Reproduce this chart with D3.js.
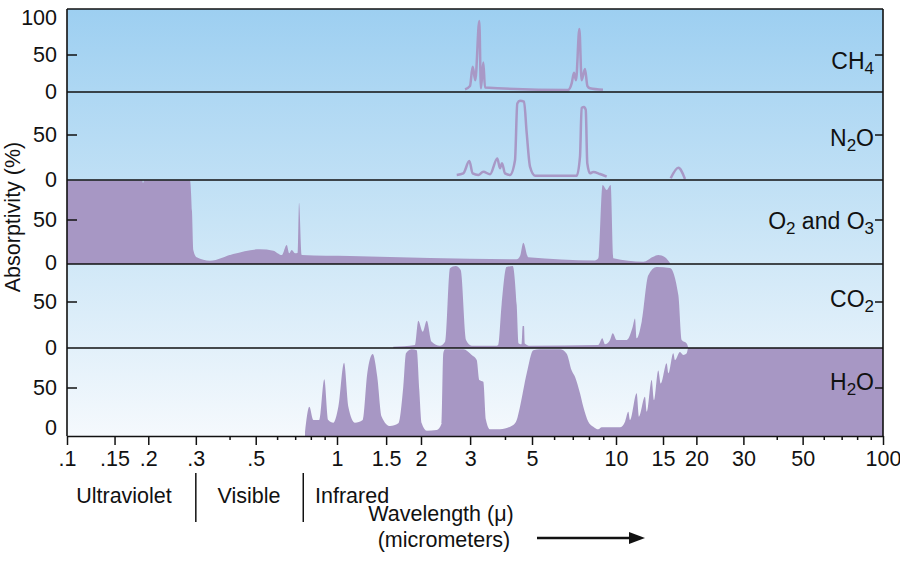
<!DOCTYPE html>
<html>
<head>
<meta charset="utf-8">
<script src="https://cdn.jsdelivr.net/npm/d3@7"></script>
<style>
  body { margin: 0; background: #fff; }
  text { font-family: "Liberation Sans", Arial, Helvetica, sans-serif; fill: #111; }
</style>
</head>
<body>
<svg id="chart"></svg>
<script>
// gas labels, "_" marks a subscript digit
const gasNames = ["CH_4", "N_2O", "O_2 and O_3", "CO_2", "H_2O"];

// wavelength (micrometers) / absorptivity (%)
const ch4Wave = [2.876, 2.997, 3.064, 3.131, 3.236, 3.28, 3.345, 3.392, 6.73, 6.94, 7.07, 7.19, 7.39, 7.53, 7.74, 7.90, 8.07, 8.98];
const ch4Abs  = [3.6, 8, 34, 16, 96, 5, 40, 6, 2.7, 12, 26, 16, 85, 16, 31, 8, 5, 3];

const n2oWave = [2.686, 2.836, 2.980, 3.064, 3.210, 3.345, 3.535, 3.754, 3.839, 3.903, 4.001, 4.169, 4.345, 4.428, 4.528, 4.680, 4.786, 4.918, 5.125,
                 7.23, 7.43, 7.53, 7.68, 7.79, 7.89, 8.07, 8.29, 8.76, 9.26, 12, 16.03, 17.12, 18.13];
const n2oAbs  = [5.6, 7.4, 21, 7.4, 5.6, 9.2, 6.3, 24, 13, 18.6, 7.4, 5.6, 22, 85, 88, 87, 52, 14.8, 4.8,
                 4.8, 26, 80, 81, 78, 18.6, 7.4, 8.9, 6.7, 3.7, null, 1.9, 13.7, 1.1];

const o3Wave = [0.1, 0.19, 0.1912, 0.193, 0.2855, 0.2904, 0.2936, 0.3023, 0.3385, 0.4129, 0.5184, 0.5808, 0.6241, 0.6512, 0.6658, 0.6796, 0.699,
                0.7152, 0.7235, 0.7402, 1.113, 4.407, 4.528, 4.653, 4.85, 8.40, 8.64, 8.95, 9.26, 9.57, 9.78, 12.66, 13.79, 14.40, 15.26, 15.93];
const o3Abs  = [96, 96, 93, 96, 96, 60, 15, 6.6, 2.7, 10.5, 16, 14.3, 9.3, 21, 11.3, 15, 11.3,
                12, 70, 9.3, 8.1, 4.3, 8, 23.6, 6.6, 3, 5.5, 90.7, 85, 90.7, 5.5, 1.5, 7.3, 9.3, 6.6, 0];

const co2Wave = [1.591, 1.904, 1.956, 2.029, 2.097, 2.185, 2.340, 2.439, 2.541, 2.664, 2.776, 2.900, 3.040, 3.736, 3.78, 3.89, 4.05, 4.264, 4.407,
                 4.48, 4.59, 4.63, 4.68, 4.71, 4.92, 8.642, 8.932, 9.133, 9.518, 9.732, 10.06, 10.97, 11.55, 11.78, 11.95, 12.48, 13.21, 14.20,
                 15.93, 17.12, 17.62, 18.40, 18.66];
const co2Abs  = [1.4, 3.3, 29.7, 17.7, 29.7, 6.8, 2.5, 6.8, 86.6, 89, 84.8, 8.7, 2.5, 2.5, 3.3, 47, 88, 89, 46.7,
                 5, 4, 24, 24, 5, 2.5, 3.3, 10.5, 4, 8.7, 16, 8.7, 8.7, 23, 32, 10.5, 28.6, 79, 88,
                 87, 57.6, 8.7, 5, 0];

const h2oWave = [0.7612, 0.7897, 0.8172, 0.8599, 0.8974, 0.9285, 0.969, 1.011, 1.060, 1.098, 1.160, 1.236, 1.284, 1.343, 1.394, 1.446, 1.549,
                 1.659, 1.728, 1.767, 1.853, 1.931, 1.972, 2.012, 2.097, 2.277, 2.373, 2.404, 2.439, 2.836, 3.040, 3.168, 3.236, 3.345, 3.420,
                 3.535, 3.839, 4.284, 4.407, 4.528, 4.786, 5.053, 5.342, 6.300, 6.658, 6.938, 7.129, 7.430, 7.635, 7.957, 8.291, 8.642, 8.887,
                 9.518, 10.35, 10.81, 11.12, 11.28, 11.95, 12.19, 12.84, 13.03, 13.60, 13.88, 14.40, 14.70, 15.48, 15.70, 16.39, 16.63, 17.36,
                 17.87, 18.40, 18.66, 100];
const h2oAbs  = [0, 28.8, 13.6, 13.6, 60, 13.6, 10.6, 28.8, 78.8, 28.8, 10.6, 13.6, 66.7, 88.6, 62.8, 17.4, 6.8,
                 9.9, 51.5, 89.4, 94, 93, 47.7, 9.9, 1.5, 2.3, 9.9, 89.4, 94, 94, 87.5, 81.8, 59, 57, 13.6,
                 3, 3, 8, 13.6, 28.8, 66.7, 93, 94, 94, 89, 70, 62.8, 44, 28.8, 11.7, 6, 3, 5.3,
                 5.3, 5.3, 11.7, 23, 13.6, 44, 17.4, 40, 23, 59, 36, 70, 55, 78, 66.7, 89.4, 81.8, 91,
                 87.5, 89.4, 96, 96];

const gasWaves = [ch4Wave, n2oWave, o3Wave, co2Wave, h2oWave];
const gasAbs = [ch4Abs, n2oAbs, o3Abs, co2Abs, h2oAbs];

// axis ticks
const majorTicks = [0.1, 0.15, 0.2, 0.3, 0.5, 1, 1.5, 2, 3, 5, 10, 15, 20, 30, 50, 100];
const majorLabels = [".1", ".15", ".2", ".3", ".5", "1", "1.5", "2", "3", "5", "10", "15", "20", "30", "50", "100"];
const minorTicks = [0.4, 0.6, 0.7, 0.8, 0.9, 4, 6, 7, 8, 9, 40, 60, 70, 80, 90];
const yTicks = [0, 50, 100];

// spectral regions below the axis
const regionNames = ["Ultraviolet", "Visible", "Infrared"];
const regionBounds = [0.3, 0.75];

// layout
const width = 900, height = 564;
const plotLeft = 67, plotRight = 883, axisY = 436;
const panelTop = [9, 92, 180, 264, 348];
const panelBottom = [92, 180, 264, 348, 436];
const zeroY = [92, 180, 263, 348, 432];
const fiftyY = [55, 135, 220, 302, 388];
const nameOffset = [19, 16, 14, 10, 7];
const lineGases = [0, 1];
const fontSize = 21.5;

const fillColor = "#a797c4";
const ink = "#111";

const svg = d3.select("#chart")
    .attr("width", width)
    .attr("height", height);

// log scale, one piece per decade since the drawing isn't quite even
const x = d3.scaleLog()
    .domain([0.1, 1, 10, 100])
    .range([plotLeft, 337, 616, plotRight]);

const defs = svg.append("defs");
const grad = defs.append("linearGradient")
    .attr("id", "sky")
    .attr("x1", 0).attr("y1", 0).attr("x2", 0).attr("y2", 1);
grad.append("stop").attr("offset", "0%").attr("stop-color", "#9dcff1");
grad.append("stop").attr("offset", "50%").attr("stop-color", "#c8e4f6");
grad.append("stop").attr("offset", "100%").attr("stop-color", "#f5f9fd");

// background
svg.append("rect")
    .attr("x", plotLeft)
    .attr("y", panelTop[0])
    .attr("width", plotRight - plotLeft)
    .attr("height", axisY - panelTop[0])
    .attr("fill", "url(#sky)");

// one panel per gas
gasNames.forEach((name, i) => {
    const y = d3.scaleLinear().domain([0, 50]).range([zeroY[i], fiftyY[i]]);
    const pts = gasWaves[i].map((w, k) => ({ w: w, a: gasAbs[i][k] }));

    defs.append("clipPath")
        .attr("id", "clip" + i)
        .append("rect")
        .attr("x", plotLeft)
        .attr("y", panelTop[i])
        .attr("width", plotRight - plotLeft)
        .attr("height", panelBottom[i] - panelTop[i]);

    const g = svg.append("g").attr("clip-path", `url(#clip${i})`);

    if (lineGases.includes(i)) {
        const line = d3.line()
            .defined(d => d.a != null)
            .x(d => x(d.w))
            .y(d => y(d.a))
            .curve(d3.curveMonotoneX);
        g.append("path")
            .attr("d", line(pts))
            .attr("fill", "none")
            .attr("stroke", "#a898c6")
            .attr("stroke-width", 2.5)
            .attr("stroke-linejoin", "round");
    } else {
        const area = d3.area()
            .x(d => x(d.w))
            .y0(panelBottom[i])
            .y1(d => y(d.a))
            .curve(d3.curveMonotoneX);
        g.append("path")
            .attr("d", area(pts))
            .attr("fill", fillColor);
    }

    // left tick labels
    yTicks.forEach(v => {
        const ty = y(v);
        if (ty < panelTop[i] + 5) return;
        svg.append("text")
            .attr("x", 57)
            .attr("y", Math.min(ty, axisY - 8))
            .attr("text-anchor", "end")
            .attr("dominant-baseline", "central")
            .attr("font-size", fontSize)
            .text(v);
    });

    // ticks at 50 on both sides
    svg.append("line")
        .attr("x1", plotLeft).attr("x2", plotLeft + 10)
        .attr("y1", y(50)).attr("y2", y(50))
        .attr("stroke", ink).attr("stroke-width", 1.5);
    svg.append("line")
        .attr("x1", plotRight - 8).attr("x2", plotRight)
        .attr("y1", y(50)).attr("y2", y(50))
        .attr("stroke", ink).attr("stroke-width", 1.5);

    // gas name with subscripts
    const label = svg.append("text")
        .attr("x", plotRight - 9)
        .attr("y", y(50) + nameOffset[i])
        .attr("text-anchor", "end")
        .attr("font-size", 23);
    name.split(/(_\d)/).filter(s => s.length).forEach(part => {
        if (part[0] === "_") {
            label.append("tspan").attr("font-size", 17).attr("dy", 5).text(part.slice(1));
        } else {
            label.append("tspan").attr("dy", label.selectAll("tspan").size() ? -5 : 0).text(part);
        }
    });
});

// panel separators and frame
panelTop.forEach(t => {
    svg.append("line")
        .attr("x1", plotLeft).attr("x2", plotRight)
        .attr("y1", t).attr("y2", t)
        .attr("stroke", ink).attr("stroke-width", 1.6);
});
[plotLeft, plotRight].forEach(px => {
    svg.append("line")
        .attr("x1", px).attr("x2", px)
        .attr("y1", panelTop[0]).attr("y2", axisY)
        .attr("stroke", ink).attr("stroke-width", 1.6);
});

// x axis
const xAxis = d3.axisBottom(x)
    .tickValues(majorTicks)
    .tickFormat((d, i) => majorLabels[i])
    .tickSize(9)
    .tickSizeOuter(0)
    .tickPadding(6);
const gx = svg.append("g")
    .attr("transform", `translate(0,${axisY})`)
    .call(xAxis);
gx.attr("font-family", null).attr("font-size", fontSize);
gx.select(".domain").attr("stroke", ink).attr("stroke-width", 1.6);
gx.selectAll(".tick line").attr("stroke", ink).attr("stroke-width", 1.5);
gx.selectAll(".tick text").attr("fill", ink);

const gm = svg.append("g")
    .attr("transform", `translate(0,${axisY})`)
    .call(d3.axisBottom(x).tickValues(minorTicks).tickSize(4).tickFormat(""));
gm.select(".domain").remove();
gm.selectAll(".tick line").attr("stroke", ink).attr("stroke-width", 1.5);

// y title
svg.append("text")
    .attr("transform", "translate(20,217) rotate(-90)")
    .attr("text-anchor", "middle")
    .attr("font-size", fontSize)
    .text("Absorptivity (%)");

// spectral regions
regionBounds.forEach(b => {
    svg.append("line")
        .attr("x1", x(b)).attr("x2", x(b))
        .attr("y1", 473).attr("y2", 522)
        .attr("stroke", ink).attr("stroke-width", 1.5);
});
svg.append("text").attr("x", 124).attr("y", 503).attr("text-anchor", "middle").attr("font-size", fontSize).text(regionNames[0]);
svg.append("text").attr("x", 249).attr("y", 503).attr("text-anchor", "middle").attr("font-size", fontSize).text(regionNames[1]);
svg.append("text").attr("x", 315).attr("y", 503).attr("font-size", fontSize).text(regionNames[2]);

// wavelength title and arrow
svg.append("text").attr("x", 441).attr("y", 521).attr("text-anchor", "middle").attr("font-size", fontSize).text("Wavelength (μ)");
svg.append("text").attr("x", 444).attr("y", 547).attr("text-anchor", "middle").attr("font-size", fontSize).text("(micrometers)");
svg.append("line")
    .attr("x1", 537).attr("x2", 632)
    .attr("y1", 538).attr("y2", 538)
    .attr("stroke", ink).attr("stroke-width", 2.5);
svg.append("path")
    .attr("d", "M645,538 L629,532 L629,544 Z")
    .attr("fill", ink);
</script>
</body>
</html>
